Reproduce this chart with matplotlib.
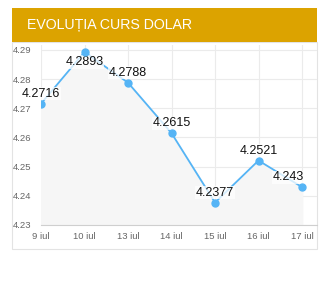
import matplotlib.pyplot as plt
from matplotlib.patches import Rectangle

# date si valori
zile = ["9 iul", "10 iul", "13 iul", "14 iul", "15 iul", "16 iul", "17 iul"]
curs = [4.2716, 4.2893, 4.2788, 4.2615, 4.2377, 4.2521, 4.243]
yticks = [4.23, 4.24, 4.25, 4.26, 4.27, 4.28, 4.29]

W, H = 331, 292
fig = plt.figure(figsize=(W / 100, H / 100), dpi=100)
fig.patch.set_facecolor("white")

# chenar panou
fig.patches.append(Rectangle((12 / W, 1 - 249 / H), 305 / W, 207 / H,
                             transform=fig.transFigure, facecolor="white",
                             edgecolor="#e3e3e3", lw=0.8, zorder=-2))
# bara de titlu
fig.patches.append(Rectangle((12 / W, 1 - 42 / H), 305 / W, 34 / H,
                             transform=fig.transFigure, facecolor="#dca300",
                             edgecolor="none", zorder=-1))
fig.text(27 / W, 1 - 25 / H, "EVOLUȚIA CURS DOLAR", color="white",
         fontsize=10.2, va="center", ha="left", family="Liberation Sans")

ax = fig.add_axes([41 / W, 1 - 225 / H, 276 / W, 180 / H])
ax.set_zorder(2)
x = list(range(len(zile)))
ax.fill_between(x, curs, 4.23, color="#f6f6f6", zorder=1)
ax.plot(x, curs, color="#55b4f5", lw=1.3, zorder=3)

ytop = 4.29 + 5 / 2917
for i, v in enumerate(curs):
    xx = i if i < len(curs) - 1 else i - 0.32
    ly = min(v + 0.0034, ytop - 0.0058)  # eticheta ramane in interior
    ax.text(xx, ly, f"{v:g}", ha="center", va="center", fontsize=9,
            color="#111111", family="Liberation Sans", zorder=4,
            bbox=dict(boxstyle="square,pad=0.05", fc="white", ec="none", alpha=0.75))
ax.plot(x, curs, ls="none", color="#55b4f5", marker="o", ms=5, zorder=5)

ax.set_xlim(0, 6 * 276 / 261)
ax.set_ylim(4.23, ytop)
ax.set_xticks(x)
ax.set_xticklabels(zile)
ax.set_yticks(yticks)
ax.set_yticklabels([f"{t:.2f}" for t in yticks])
ax.grid(True, color="#ebebeb", lw=0.8, zorder=0)
ax.set_axisbelow(True)
for s in ["top", "right", "left"]:
    ax.spines[s].set_visible(False)
ax.spines["bottom"].set_color("#cfcfcf")
ax.tick_params(axis="both", length=0, labelsize=6.8, colors="#666666")
ax.tick_params(axis="y", pad=7)
ax.tick_params(axis="x", pad=5)
for lab in ax.get_xticklabels() + ax.get_yticklabels():
    lab.set_family("Liberation Sans")
ax.set_facecolor("none")

fig.savefig("out.png", dpi=100)
